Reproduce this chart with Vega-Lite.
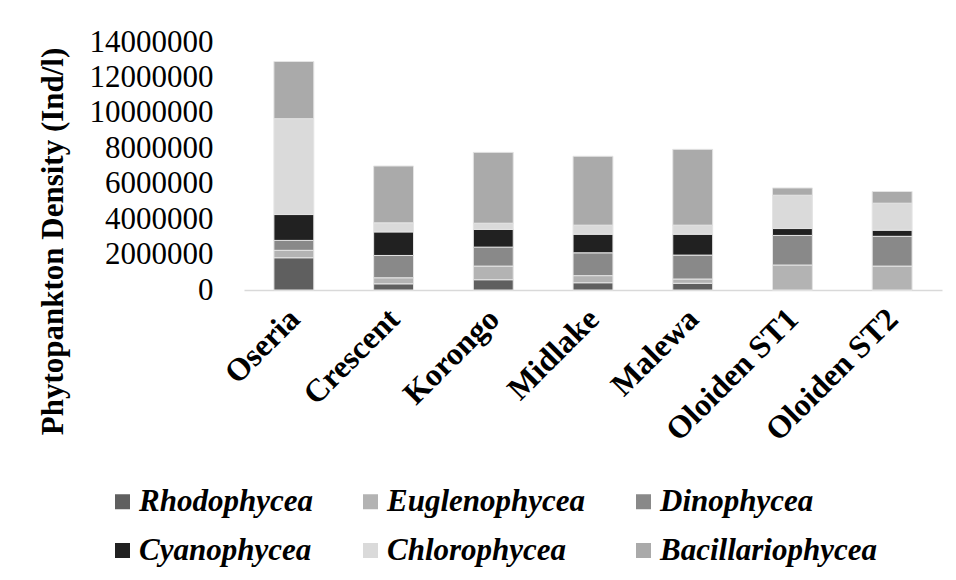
{
  "$schema": "https://vega.github.io/schema/vega-lite/v6.json",
  "width": 698,
  "height": 248,
  "autosize": {"type": "none"},
  "padding": {"left": 244, "top": 42, "right": 14, "bottom": 290},
  "background": "#ffffff",
  "config": {
    "font": "Liberation Serif",
    "view": {"stroke": null}
  },
  "data": {
    "values": [
      {"site": "Oseria", "group": "Rhodophycea", "density": 1820000},
      {"site": "Oseria", "group": "Euglenophycea", "density": 420000},
      {"site": "Oseria", "group": "Dinophycea", "density": 560000},
      {"site": "Oseria", "group": "Cyanophycea", "density": 1460000},
      {"site": "Oseria", "group": "Chlorophycea", "density": 5410000},
      {"site": "Oseria", "group": "Bacillariophycea", "density": 3230000},
      {"site": "Crescent", "group": "Rhodophycea", "density": 350000},
      {"site": "Crescent", "group": "Euglenophycea", "density": 340000},
      {"site": "Crescent", "group": "Dinophycea", "density": 1260000},
      {"site": "Crescent", "group": "Cyanophycea", "density": 1330000},
      {"site": "Crescent", "group": "Chlorophycea", "density": 510000},
      {"site": "Crescent", "group": "Bacillariophycea", "density": 3210000},
      {"site": "Korongo", "group": "Rhodophycea", "density": 580000},
      {"site": "Korongo", "group": "Euglenophycea", "density": 770000},
      {"site": "Korongo", "group": "Dinophycea", "density": 1070000},
      {"site": "Korongo", "group": "Cyanophycea", "density": 1000000},
      {"site": "Korongo", "group": "Chlorophycea", "density": 350000},
      {"site": "Korongo", "group": "Bacillariophycea", "density": 4000000},
      {"site": "Midlake", "group": "Rhodophycea", "density": 410000},
      {"site": "Midlake", "group": "Euglenophycea", "density": 400000},
      {"site": "Midlake", "group": "Dinophycea", "density": 1290000},
      {"site": "Midlake", "group": "Cyanophycea", "density": 1050000},
      {"site": "Midlake", "group": "Chlorophycea", "density": 510000},
      {"site": "Midlake", "group": "Bacillariophycea", "density": 3890000},
      {"site": "Malewa", "group": "Rhodophycea", "density": 380000},
      {"site": "Malewa", "group": "Euglenophycea", "density": 240000},
      {"site": "Malewa", "group": "Dinophycea", "density": 1350000},
      {"site": "Malewa", "group": "Cyanophycea", "density": 1180000},
      {"site": "Malewa", "group": "Chlorophycea", "density": 510000},
      {"site": "Malewa", "group": "Bacillariophycea", "density": 4280000},
      {"site": "Oloiden ST1", "group": "Rhodophycea", "density": 0},
      {"site": "Oloiden ST1", "group": "Euglenophycea", "density": 1410000},
      {"site": "Oloiden ST1", "group": "Dinophycea", "density": 1670000},
      {"site": "Oloiden ST1", "group": "Cyanophycea", "density": 390000},
      {"site": "Oloiden ST1", "group": "Chlorophycea", "density": 1880000},
      {"site": "Oloiden ST1", "group": "Bacillariophycea", "density": 410000},
      {"site": "Oloiden ST2", "group": "Rhodophycea", "density": 0},
      {"site": "Oloiden ST2", "group": "Euglenophycea", "density": 1350000},
      {"site": "Oloiden ST2", "group": "Dinophycea", "density": 1680000},
      {"site": "Oloiden ST2", "group": "Cyanophycea", "density": 350000},
      {"site": "Oloiden ST2", "group": "Chlorophycea", "density": 1520000},
      {"site": "Oloiden ST2", "group": "Bacillariophycea", "density": 660000}
    ]
  },
  "mark": {"type": "bar", "stroke": "#e4e4e4", "strokeWidth": 1},
  "encoding": {
    "x": {
      "field": "site",
      "type": "nominal",
      "sort": null,
      "scale": {"paddingInner": 0.6, "paddingOuter": 0.3},
      "axis": {
        "title": null,
        "labelAngle": -45,
        "labelAlign": "right",
        "labelBaseline": "top",
        "labelPadding": 13,
        "labelOffset": -10,
        "labelFont": "Liberation Serif",
        "labelFontSize": 32,
        "labelFontWeight": "bold",
        "labelColor": "#000000",
        "ticks": false,
        "tickSize": 0,
        "domainColor": "#d9d9d9",
        "domainWidth": 1.5,
        "labelLimit": 400
      }
    },
    "y": {
      "field": "density",
      "type": "quantitative",
      "stack": "zero",
      "scale": {"domain": [0, 14000000], "nice": false},
      "axis": {
        "title": "Phytopankton Density (Ind/l)",
        "titleFont": "Liberation Serif",
        "titleFontSize": 31,
        "titleFontWeight": "bold",
        "titleColor": "#000000",
        "titleAngle": -90,
        "titleX": -182,
        "titleY": 199,
        "titleAlign": "center",
        "titleBaseline": "alphabetic",
        "values": [0, 2000000, 4000000, 6000000, 8000000, 10000000, 12000000, 14000000],
        "format": "d",
        "labelFont": "Liberation Serif",
        "labelFontSize": 31,
        "labelColor": "#000000",
        "labelPadding": 31,
        "ticks": false,
        "tickSize": 0,
        "domain": false,
        "grid": false,
        "labelBaseline": "middle",
        "labelFlush": false,
        "labelOverlap": false
      }
    },
    "color": {
      "field": "group",
      "type": "nominal",
      "sort": ["Rhodophycea", "Euglenophycea", "Dinophycea", "Cyanophycea", "Chlorophycea", "Bacillariophycea"],
      "scale": {
        "domain": ["Rhodophycea", "Euglenophycea", "Dinophycea", "Cyanophycea", "Chlorophycea", "Bacillariophycea"],
        "range": ["#5f5f5f", "#b3b3b3", "#898989", "#212121", "#dadada", "#aaaaaa"]
      },
      "legend": {
        "title": null,
        "orient": "none",
        "legendX": -137,
        "legendY": 444,
        "direction": "horizontal",
        "columns": 3,
        "columnPadding": 42,
        "rowPadding": 17,
        "symbolType": "square",
        "symbolSize": 225,
        "symbolStrokeWidth": 0,
        "labelFont": "Liberation Serif",
        "labelFontSize": 31,
        "labelFontWeight": "bold",
        "labelFontStyle": "italic",
        "labelColor": "#000000",
        "labelOffset": 1,
        "labelLimit": 400
      }
    },
    "order": {"field": "group", "sort": "descending"}
  }
}
